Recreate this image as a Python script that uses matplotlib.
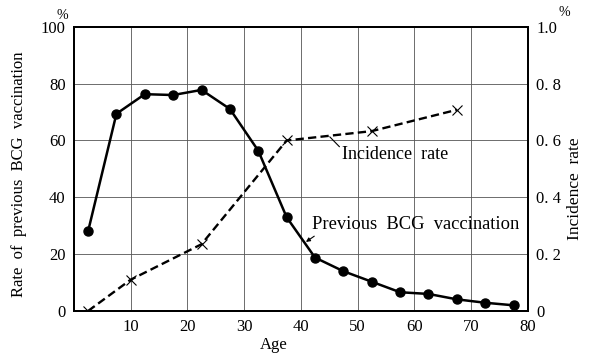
import matplotlib
matplotlib.use("Agg")
from matplotlib import pyplot as plt
import numpy as np

plt.rcParams['font.family'] = ['Liberation Serif', 'DejaVu Serif']

# age-group midpoints and values
age_bcg = [2.5, 7.5, 12.5, 17.5, 22.5, 27.5, 32.5, 37.5, 42.5, 47.5,
           52.5, 57.5, 62.5, 67.5, 72.5, 77.5]
bcg_rate = [28, 69.4, 76.3, 76, 77.8, 71.1, 56.4, 33, 18.8, 14,
            10.3, 6.6, 6, 4.1, 2.9, 2]

age_inc = [2.5, 10, 22.5, 37.5, 52.5, 67.5]
inc_rate = [0.0, 0.11, 0.235, 0.6, 0.633, 0.708]

x_ticks = [10, 20, 30, 40, 50, 60, 70, 80]
left_ticks = [0, 20, 40, 60, 80, 100]
right_ticks = [0, 0.2, 0.4, 0.6, 0.8, 1.0]
right_labels = ['0', '0. 2', '0. 4', '0. 6', '0. 8', '1.0']

fig = plt.figure(figsize=(5.91, 3.53), dpi=100)
ax = fig.add_axes([0.125, 0.119, 0.768, 0.805])
ax2 = ax.twinx()

ax.set_xlim(0, 80)
ax.set_ylim(0, 100)
ax2.set_ylim(0, 1.0)

ax.set_xticks(x_ticks)
ax.set_yticks(left_ticks)
ax2.set_yticks(right_ticks)
ax2.set_yticklabels(right_labels)
ax.grid(True, color='#555555', linewidth=0.6)

for a in (ax, ax2):
    for s in a.spines.values():
        s.set_linewidth(1.4)
ax.tick_params(length=0, labelsize=12, pad=6)
ax2.tick_params(length=0, labelsize=12, pad=6)

ax.plot(age_bcg, bcg_rate, color='black', linewidth=1.8,
        marker='o', markersize=6.5, zorder=3)
ax2.plot(age_inc, inc_rate, color='black', linewidth=1.7,
         linestyle=(0, (3.5, 1.8)), marker='x', markersize=7,
         markeredgewidth=0.8, zorder=3)

ax.set_ylabel('Rate  of  previous  BCG  vaccination', fontsize=12)
ax.yaxis.set_label_coords(-0.103, 0.48)
ax2.set_ylabel('Incidence  rate', fontsize=12.5)
ax2.yaxis.set_label_coords(1.086, 0.43)
ax.set_xlabel('Age', fontsize=12)
ax.xaxis.set_label_coords(0.44, -0.09)

fig.text(0.105, 0.955, '%', fontsize=10, ha='center', va='center')
fig.text(0.955, 0.965, '%', fontsize=10, ha='center', va='center')

ax2.annotate('Incidence  rate', xy=(45.1, 0.613), xytext=(47.3, 0.55),
             fontsize=13, ha='left', va='center',
             arrowprops=dict(arrowstyle='-', color='black', linewidth=0.8,
                             shrinkA=0, shrinkB=0,
                             relpos=(0.0, 0.8)))
ax.annotate('Previous  BCG  vaccination', xy=(40.9, 24.3),
            xytext=(41.9, 30.3), fontsize=13.3, ha='left', va='center',
            arrowprops=dict(arrowstyle='-|>', color='black', linewidth=0.8,
                            mutation_scale=6, shrinkA=0, shrinkB=0,
                            relpos=(0.05, 0.15)))

fig.savefig('out.png', dpi=100)
